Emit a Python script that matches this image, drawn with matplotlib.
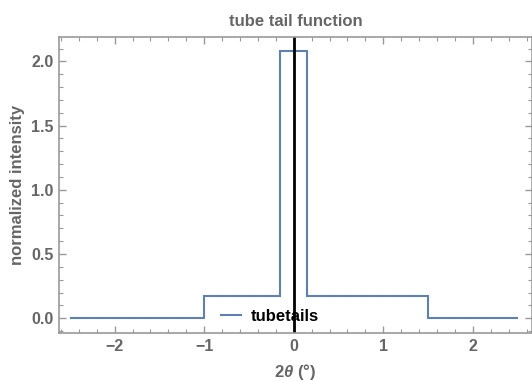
import matplotlib
matplotlib.use("Agg")
import matplotlib.pyplot as plt
from matplotlib.ticker import MultipleLocator

plt.rcParams['font.family'] = ['Liberation Sans', 'DejaVu Sans']
plt.rcParams['mathtext.fontset'] = 'custom'
plt.rcParams['mathtext.rm'] = 'Liberation Sans'
plt.rcParams['mathtext.it'] = 'Liberation Sans:italic'
plt.rcParams['mathtext.bf'] = 'Liberation Sans:bold'
plt.rcParams['mathtext.bfit'] = 'Liberation Sans:bold:italic'

# data
edges = [-2.5, -1.0, -0.15, 0.15, 1.5, 2.5]
values = [0.0, 0.17, 2.08, 0.17, 0.0]
series_name = "tubetails"
xticks = [-2, -1, 0, 1, 2]
yticks = [0.0, 0.5, 1.0, 1.5, 2.0]

gray = '#666666'
frame = '#999999'
blue = '#5E81B5'

fig = plt.figure(figsize=(5.32, 3.81), dpi=100)
ax = fig.add_axes([0.111, 0.126, 0.889, 0.777])

ax.stairs(values, edges, baseline=None, color=blue, lw=1.5, label=series_name)
ax.axvline(0, color='black', lw=2)

ax.set_xlim(-2.62, 2.66)
ax.set_ylim(-0.115, 2.19)
ax.set_xticks(xticks)
ax.set_yticks(yticks)
ax.set_yticklabels([f"{v:.1f}" for v in yticks])
ax.xaxis.set_minor_locator(MultipleLocator(0.2))
ax.yaxis.set_minor_locator(MultipleLocator(0.1))
ax.tick_params(which='both', direction='in', top=True, right=True, color=frame,
               labelcolor=gray, labelsize=11.5)
ax.tick_params(which='major', length=5, width=1, pad=4)
ax.tick_params(which='minor', length=3, width=0.8)
for lab in ax.get_xticklabels() + ax.get_yticklabels():
    lab.set_fontweight('bold')
for s in ax.spines.values():
    s.set_color(frame)
    s.set_linewidth(1.2)

ax.set_title("tube tail function", color=gray, fontsize=12, fontweight='bold', pad=8)
ax.set_ylabel("normalized intensity", color=gray, fontsize=12, fontweight='bold', labelpad=4)
ax.set_xlabel(r"2$\boldsymbol{\theta}$ (°)", color=gray, fontsize=12, fontweight='bold', labelpad=6)

leg = ax.legend(loc='lower left', bbox_to_anchor=(0.31, -0.02), frameon=False,
                prop={'weight': 'bold', 'size': 12}, handlelength=1.2, handletextpad=0.6)

fig.savefig("out.png", dpi=100)
